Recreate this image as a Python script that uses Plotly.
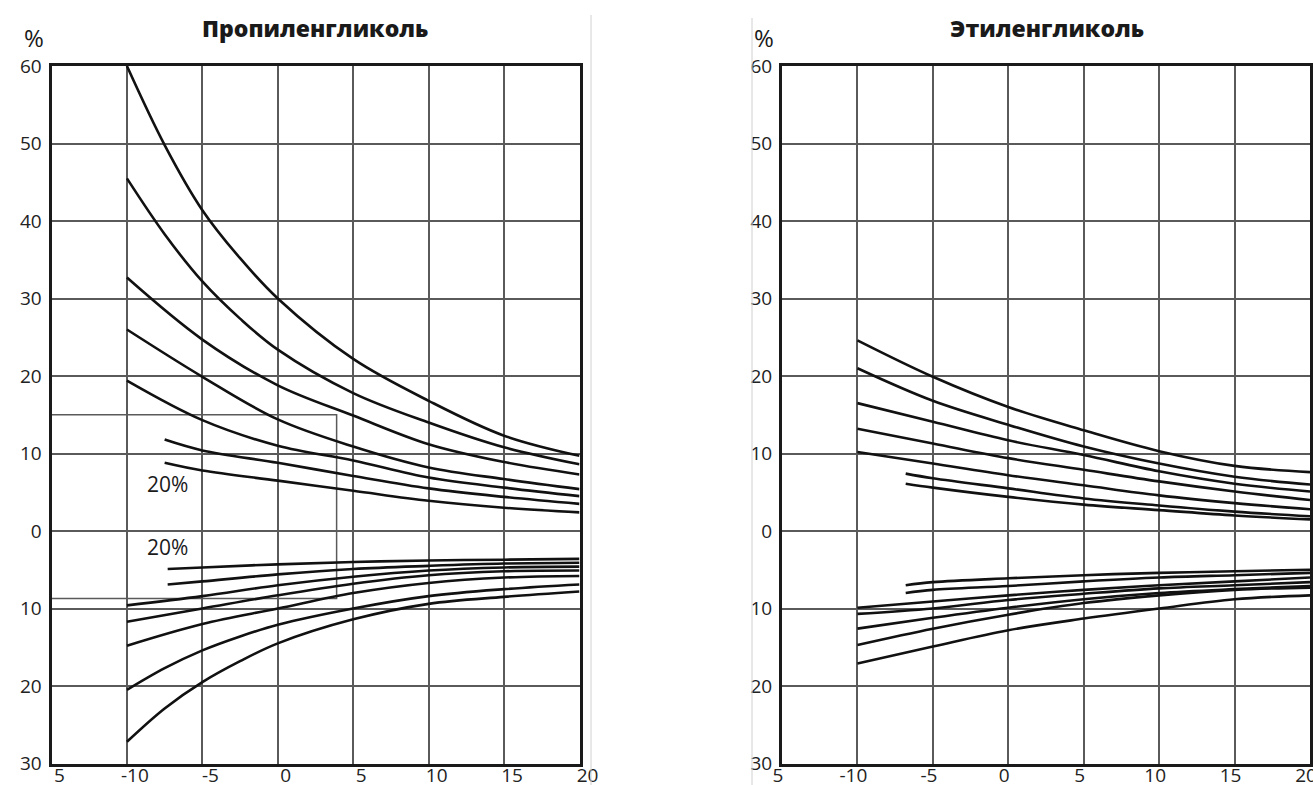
import plotly.graph_objects as go

# ---------------- data ----------------
T_FULL = [-10, -5, 0, 5, 10, 15, 20]
T_FULL_DENSE = [-10, -7.5, -5, -2.5, 0, 5, 10, 15, 20]
T_PG_SHORT_UP = [-7.5, -5, 0, 5, 10, 15, 20]
T_PG_SHORT_LO = [-7.3, -5, 0, 5, 10, 15, 20]
T_EG_SHORT = [-6.8, -5, 0, 5, 10, 15, 20]

# Propylene glycol, upper family
pg_up_1 = [60.0, 49.8, 41.4, 35.2, 30.0, 22.2, 16.8, 12.3, 9.7]   # dense T
pg_up_2 = [45.5, 38.3, 32.2, 27.4, 23.4, 17.8, 14.0, 10.8, 8.6]   # dense T
pg_up_3 = [32.7, 24.7, 18.8, 14.9, 11.2, 8.9, 7.3]
pg_up_4 = [26.0, 19.9, 14.4, 10.9, 8.2, 6.7, 5.4]
pg_up_5 = [19.4, 14.3, 11.0, 9.1, 6.9, 5.6, 4.5]
pg_up_6 = [11.8, 10.4, 8.8, 7.1, 5.5, 4.4, 3.5]
pg_up_7 = [8.8, 7.8, 6.5, 5.2, 3.9, 3.0, 2.4]

# Propylene glycol, lower family
pg_lo_1 = [-4.9, -4.7, -4.3, -4.0, -3.8, -3.7, -3.6]
pg_lo_2 = [-6.9, -6.5, -5.6, -4.9, -4.5, -4.2, -4.1]
pg_lo_3 = [-9.6, -8.4, -7.0, -5.9, -5.1, -4.7, -4.6]
pg_lo_4 = [-11.7, -10.0, -8.3, -6.8, -5.7, -5.2, -5.1]
pg_lo_5 = [-14.8, -12.0, -10.0, -8.0, -6.7, -6.0, -5.8]
pg_lo_6 = [-20.5, -17.7, -15.4, -13.6, -12.1, -10.0, -8.4, -7.5, -6.9]   # dense T
pg_lo_7 = [-27.2, -22.9, -19.5, -16.8, -14.5, -11.4, -9.4, -8.5, -7.8]   # dense T

# Ethylene glycol, upper family
eg_up_1 = [24.6, 19.9, 16.0, 13.0, 10.3, 8.4, 7.6]
eg_up_2 = [21.0, 16.8, 13.7, 10.9, 8.7, 7.0, 6.0]
eg_up_3 = [16.5, 14.1, 11.7, 9.8, 7.7, 6.1, 5.1]
eg_up_4 = [13.2, 11.3, 9.4, 7.9, 6.4, 5.1, 4.0]
eg_up_5 = [10.2, 8.7, 7.2, 5.9, 4.6, 3.6, 2.8]
eg_up_6 = [7.4, 6.8, 5.5, 4.2, 3.3, 2.5, 1.9]
eg_up_7 = [6.1, 5.6, 4.4, 3.4, 2.7, 2.0, 1.5]

# Ethylene glycol, lower family
eg_lo_1 = [-7.0, -6.6, -6.1, -5.7, -5.4, -5.2, -5.0]
eg_lo_2 = [-8.0, -7.6, -7.1, -6.5, -6.0, -5.7, -5.4]
eg_lo_3 = [-9.9, -9.1, -8.3, -7.6, -7.0, -6.5, -6.0]
eg_lo_4 = [-10.7, -10.0, -8.9, -8.1, -7.4, -7.0, -6.6]
eg_lo_5 = [-12.6, -11.2, -9.9, -8.8, -8.0, -7.5, -7.1]
eg_lo_6 = [-14.7, -12.6, -10.8, -9.3, -8.3, -7.6, -7.3]
eg_lo_7 = [-17.1, -14.9, -12.8, -11.3, -10.0, -8.8, -8.3]

# Example read-off lines (propylene glycol)
example_t = 3.9
example_upper = 15.0
example_lower = -8.7
axis_t_min = -15

X_TICK_VALS = [-15, -10, -5, 0, 5, 10, 15, 20]
X_TICK_TEXT = ["5", "-10", "-5", "0", "5", "10", "15", "20"]
Y_TICK_VALS = [-30, -20, -10, 0, 10, 20, 30, 40, 50, 60]
Y_TICK_TEXT = ["30", "20", "10", "0", "10", "20", "30", "40", "50", "60"]

TITLE_LEFT = "Пропиленгликоль"
TITLE_RIGHT = "Этиленгликоль"
LABEL_20 = "20%"

# ---------------- figure ----------------
W, H = 1313, 785
fig = go.Figure()

CURVE = dict(color="#111111", width=2.6, shape="spline", smoothing=1.0)


def add_curve(x, y, xa, ya):
    fig.add_trace(go.Scatter(x=x, y=y, mode="lines", line=CURVE,
                             xaxis=xa, yaxis=ya, showlegend=False,
                             hoverinfo="skip"))


# example lines (gridline style)
fig.add_trace(go.Scatter(
    x=[axis_t_min, example_t, example_t, axis_t_min],
    y=[example_upper, example_upper, example_lower, example_lower],
    mode="lines", line=dict(color="#5a5a5a", width=1.5),
    xaxis="x", yaxis="y", showlegend=False, hoverinfo="skip"))

for ys in [pg_up_1, pg_up_2]:
    add_curve(T_FULL_DENSE, ys, "x", "y")
for ys in [pg_up_3, pg_up_4, pg_up_5]:
    add_curve(T_FULL, ys, "x", "y")
for ys in [pg_up_6, pg_up_7]:
    add_curve(T_PG_SHORT_UP, ys, "x", "y")
for ys in [pg_lo_1, pg_lo_2]:
    add_curve(T_PG_SHORT_LO, ys, "x", "y")
for ys in [pg_lo_3, pg_lo_4, pg_lo_5]:
    add_curve(T_FULL, ys, "x", "y")
for ys in [pg_lo_6, pg_lo_7]:
    add_curve(T_FULL_DENSE, ys, "x", "y")

for ys in [eg_up_1, eg_up_2, eg_up_3, eg_up_4, eg_up_5]:
    add_curve(T_FULL, ys, "x2", "y2")
for ys in [eg_up_6, eg_up_7]:
    add_curve(T_EG_SHORT, ys, "x2", "y2")
for ys in [eg_lo_1, eg_lo_2]:
    add_curve(T_EG_SHORT, ys, "x2", "y2")
for ys in [eg_lo_3, eg_lo_4, eg_lo_5, eg_lo_6, eg_lo_7]:
    add_curve(T_FULL, ys, "x2", "y2")

TICKFONT = dict(family="Open Sans", size=19, color="#222222")

common_x = dict(range=[-15, 20], tickmode="array", tickvals=X_TICK_VALS,
                ticktext=X_TICK_TEXT, showgrid=True, gridcolor="#5a5a5a",
                gridwidth=1.5, showline=True, linecolor="#1a1a1a",
                linewidth=3, mirror=True, zeroline=False, ticks="",
                tickfont=TICKFONT, fixedrange=True, ticklabelstandoff=-7,
                ticklabeloverflow="allow", automargin=False)
common_y = dict(range=[-30, 60], tickmode="array", tickvals=Y_TICK_VALS,
                ticktext=Y_TICK_TEXT, showgrid=True, gridcolor="#5a5a5a",
                gridwidth=1.5, showline=True, linecolor="#1a1a1a",
                linewidth=3, mirror=True, zeroline=False, ticks="",
                tickfont=TICKFONT, fixedrange=True, ticklabelstandoff=3,
                ticklabeloverflow="allow", automargin=False)

y_dom = [(H - 763.5) / H, (H - 66) / H]

fig.update_layout(
    width=W, height=H,
    margin=dict(l=0, r=0, t=0, b=0, pad=0, autoexpand=False),
    paper_bgcolor="white", plot_bgcolor="white",
    xaxis=dict(common_x, domain=[51.5 / W, 579.5 / W], anchor="y",
               ticklabelshift=8),
    yaxis=dict(common_y, domain=y_dom, anchor="x"),
    xaxis2=dict(common_x, domain=[782 / W, 1310 / W], anchor="y2",
                ticklabelshift=-4),
    yaxis2=dict(common_y, domain=y_dom, anchor="x2"),
    showlegend=False,
)

TXT = "#1a1a1a"
annos = [
    dict(text=TITLE_LEFT, x=315 / W, y=1 - 28 / H,
         font=dict(family="Open Sans", size=23, color=TXT, weight=800)),
    dict(text=TITLE_RIGHT, x=1047 / W, y=1 - 28 / H,
         font=dict(family="Open Sans", size=23, color=TXT, weight=800)),
    dict(text="%", x=34 / W, y=1 - 38 / H,
         font=dict(family="Open Sans", size=24, color=TXT)),
    dict(text="%", x=764 / W, y=1 - 38 / H,
         font=dict(family="Open Sans", size=24, color=TXT)),
]
for a in annos:
    a.update(xref="paper", yref="paper", showarrow=False,
             xanchor="center", yanchor="middle")
    fig.add_annotation(**a)

for yy in [6.1, -2.1]:
    fig.add_annotation(text=LABEL_20, x=-7.3, y=yy, xref="x", yref="y",
                       showarrow=False, xanchor="center", yanchor="middle",
                       font=dict(family="Open Sans", size=21, color=TXT))

# thin separator lines of the original layout
fig.add_shape(type="line", xref="paper", yref="paper",
              x0=591 / W, x1=591 / W, y0=0, y1=1 - 15 / H,
              line=dict(color="#d0d0d0", width=1))
fig.add_shape(type="line", xref="paper", yref="paper",
              x0=752 / W, x1=752 / W, y0=0, y1=1 - 18 / H,
              line=dict(color="#d0d0d0", width=1))

fig.write_html(
    "out.html",
    config={"displayModeBar": False},
    post_script="document.body.style.margin='0';"
                "document.body.style.overflow='hidden';",
)
